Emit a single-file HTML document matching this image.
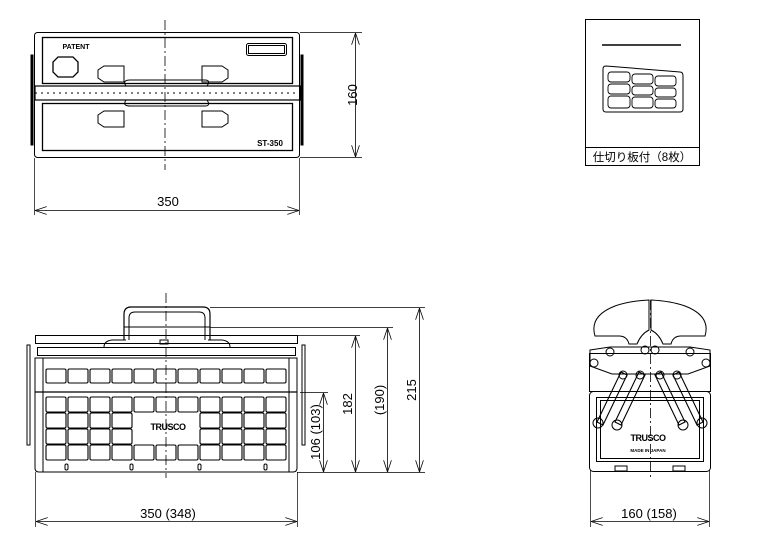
<!DOCTYPE html>
<html><head><meta charset="utf-8"><style>
html,body{margin:0;padding:0;background:#fff;}
svg{display:block}
text{font-family:"Liberation Sans","Noto Sans CJK JP",sans-serif;fill:#000}
</style></head><body>
<svg width="761" height="553" viewBox="0 0 761 553" xmlns="http://www.w3.org/2000/svg">
<defs>
<marker id="a" viewBox="0 0 12 8" refX="12" refY="4" markerWidth="12" markerHeight="8" orient="auto-start-reverse" markerUnits="userSpaceOnUse"><path d="M0,0 L12,4 L0,8" fill="none" stroke="#000" stroke-width="0.8"/></marker>
</defs>
<g fill="none" stroke="#000" stroke-width="1">
<!-- TOP LEFT -->
<rect x="34.5" y="32.5" width="265" height="125" rx="3"/>
<rect x="42.5" y="37.5" width="250" height="46" stroke-width="1.3"/>
<rect x="42.5" y="103.5" width="250" height="47" stroke-width="1.3"/>
<rect x="35" y="86" width="265" height="14" stroke-width="1.2"/>
<line x1="35" y1="93" x2="300" y2="93" stroke-dasharray="2 4"/>
<rect x="246.5" y="43.5" width="40" height="12" rx="2"/>
<rect x="248.5" y="45.5" width="36" height="8"/>
<path d="M58,57 h15 l5,5 v10 l-5,5 h-15 l-5,-5 v-10 z" stroke-width="1.3"/>
<path d="M98,70 l6,-4 h20 v16 h-20 l-6,-4 z"/>
<path d="M228,70 l-6,-4 h-20 v16 h20 l6,-4 z"/>
<path d="M98,115 l6,-4 h20 v16 h-20 l-6,-4 z"/>
<path d="M228,115 l-6,-4 h-20 v16 h20 l6,-4 z"/>
<path d="M126,86 q-4,-6 4,-6 h75 q6,0 2,6" />
<path d="M126,100 q-4,6 4,6 h75 q6,0 2,-6" />
<rect x="31" y="55" width="2" height="90" fill="#000"/>
<rect x="301" y="55" width="2" height="90" fill="#000"/>
<line x1="165" y1="20" x2="165" y2="170" stroke-dasharray="10 3 2 3" stroke-width="0.8"/>
<line x1="300" y1="32.5" x2="362" y2="32.5" stroke-width="0.7"/>
<line x1="300" y1="157.5" x2="362" y2="157.5" stroke-width="0.7"/>
<line x1="355.5" y1="33" x2="355.5" y2="157" stroke-width="0.8" marker-start="url(#a)" marker-end="url(#a)"/>
<line x1="34.5" y1="158" x2="34.5" y2="215" stroke-width="0.7"/>
<line x1="299.5" y1="158" x2="299.5" y2="215" stroke-width="0.7"/>
<line x1="35" y1="210.5" x2="299" y2="210.5" stroke-width="0.8" marker-start="url(#a)" marker-end="url(#a)"/>

<!-- TOP RIGHT -->
<rect x="585.5" y="19.5" width="114" height="146"/>
<line x1="585" y1="147.5" x2="700" y2="147.5"/>
<line x1="602" y1="45" x2="681" y2="45" stroke-width="1.5"/>
<path d="M606,66 l74,6 q3,0 3,4 v33 q0,3 -3,3 h-74 q-3,0 -3,-3 v-40 q0,-3 3,-3 z"/>
<g stroke-width="0.9">
<rect x="608" y="72" width="22" height="10" rx="3"/><rect x="632" y="74" width="21" height="10" rx="3"/><rect x="655" y="76" width="21" height="10" rx="3"/>
<rect x="608" y="84" width="22" height="10" rx="3"/><rect x="632" y="86" width="21" height="9" rx="3"/><rect x="655" y="88" width="21" height="9" rx="3"/>
<rect x="608" y="96" width="22" height="12" rx="3"/><rect x="632" y="97" width="21" height="11" rx="3"/><rect x="655" y="99" width="21" height="9" rx="3"/>
</g>

<!-- BOTTOM LEFT -->
<path d="M124,340 v-26 q0,-7 7,-7 h72 q7,0 7,7 v26" stroke-width="1.2"/>
<path d="M129,340 v-22 q0,-6 6,-6 h64 q6,0 6,6 v22"/>
<line x1="124" y1="327" x2="210" y2="327"/>
<path d="M104,347 q0,-6 8,-7 h14 M208,340 h14 q8,1 8,7"/>
<rect x="160" y="340" width="8" height="4"/>
<rect x="35.5" y="335.5" width="262" height="8"/>
<rect x="37.5" y="347.5" width="258" height="8"/>
<path d="M35,358 h262 v110 q0,4 -4,4 h-254 q-4,0 -4,-4 z"/>
<line x1="35" y1="392" x2="297" y2="392" stroke-width="1.3"/>
<line x1="43" y1="358" x2="43" y2="472"/>
<line x1="289" y1="358" x2="289" y2="472"/>
<rect x="27" y="345" width="3" height="100" />
<rect x="302" y="345" width="3" height="100" />
<g stroke-width="1.1">
<rect x="46" y="369" width="20" height="14" rx="1.5"/><rect x="68" y="369" width="20" height="14" rx="1.5"/><rect x="90" y="369" width="20" height="14" rx="1.5"/><rect x="112" y="369" width="20" height="14" rx="1.5"/><rect x="134" y="369" width="20" height="14" rx="1.5"/><rect x="156" y="369" width="20" height="14" rx="1.5"/><rect x="178" y="369" width="20" height="14" rx="1.5"/><rect x="200" y="369" width="20" height="14" rx="1.5"/><rect x="222" y="369" width="20" height="14" rx="1.5"/><rect x="244" y="369" width="20" height="14" rx="1.5"/><rect x="266" y="369" width="20" height="14" rx="1.5"/>
<rect x="46" y="397" width="20" height="15" rx="1.5"/><rect x="68" y="397" width="20" height="15" rx="1.5"/><rect x="90" y="397" width="20" height="15" rx="1.5"/><rect x="112" y="397" width="20" height="15" rx="1.5"/><rect x="134" y="397" width="20" height="15" rx="1.5"/><rect x="156" y="397" width="20" height="15" rx="1.5"/><rect x="178" y="397" width="20" height="15" rx="1.5"/><rect x="200" y="397" width="20" height="15" rx="1.5"/><rect x="222" y="397" width="20" height="15" rx="1.5"/><rect x="244" y="397" width="20" height="15" rx="1.5"/><rect x="266" y="397" width="20" height="15" rx="1.5"/>
<rect x="46" y="413" width="20" height="15" rx="1.5"/><rect x="68" y="413" width="20" height="15" rx="1.5"/><rect x="90" y="413" width="20" height="15" rx="1.5"/><rect x="112" y="413" width="20" height="15" rx="1.5"/><rect x="200" y="413" width="20" height="15" rx="1.5"/><rect x="222" y="413" width="20" height="15" rx="1.5"/><rect x="244" y="413" width="20" height="15" rx="1.5"/><rect x="266" y="413" width="20" height="15" rx="1.5"/>
<rect x="46" y="429" width="20" height="15" rx="1.5"/><rect x="68" y="429" width="20" height="15" rx="1.5"/><rect x="90" y="429" width="20" height="15" rx="1.5"/><rect x="112" y="429" width="20" height="15" rx="1.5"/><rect x="200" y="429" width="20" height="15" rx="1.5"/><rect x="222" y="429" width="20" height="15" rx="1.5"/><rect x="244" y="429" width="20" height="15" rx="1.5"/><rect x="266" y="429" width="20" height="15" rx="1.5"/>
<rect x="46" y="445" width="20" height="15" rx="1.5"/><rect x="68" y="445" width="20" height="15" rx="1.5"/><rect x="90" y="445" width="20" height="15" rx="1.5"/><rect x="112" y="445" width="20" height="15" rx="1.5"/><rect x="134" y="445" width="20" height="15" rx="1.5"/><rect x="156" y="445" width="20" height="15" rx="1.5"/><rect x="178" y="445" width="20" height="15" rx="1.5"/><rect x="200" y="445" width="20" height="15" rx="1.5"/><rect x="222" y="445" width="20" height="15" rx="1.5"/><rect x="244" y="445" width="20" height="15" rx="1.5"/><rect x="266" y="445" width="20" height="15" rx="1.5"/>
</g>
<rect x="65" y="464" width="3" height="6" rx="1.5"/><rect x="130" y="464" width="3" height="6" rx="1.5"/><rect x="198" y="464" width="3" height="6" rx="1.5"/><rect x="264" y="464" width="3" height="6" rx="1.5"/>
<line x1="166" y1="293" x2="166" y2="478" stroke-dasharray="10 3 2 3" stroke-width="0.8"/>
<g stroke-width="0.7">
<line x1="210" y1="307.5" x2="425" y2="307.5"/>
<line x1="210" y1="327.5" x2="393" y2="327.5"/>
<line x1="297" y1="335.5" x2="360" y2="335.5"/>
<line x1="300" y1="392.5" x2="328" y2="392.5"/>
<line x1="297" y1="472.5" x2="425" y2="472.5"/>
<line x1="35.5" y1="472" x2="35.5" y2="527"/>
<line x1="297.5" y1="472" x2="297.5" y2="527"/>
</g>
<g stroke-width="0.8">
<line x1="419.5" y1="308" x2="419.5" y2="472" marker-start="url(#a)" marker-end="url(#a)"/>
<line x1="387.5" y1="328" x2="387.5" y2="472" marker-start="url(#a)" marker-end="url(#a)"/>
<line x1="355.5" y1="336" x2="355.5" y2="472" marker-start="url(#a)" marker-end="url(#a)"/>
<line x1="323.5" y1="393" x2="323.5" y2="472" marker-start="url(#a)" marker-end="url(#a)"/>
<line x1="36" y1="521.5" x2="297" y2="521.5" marker-start="url(#a)" marker-end="url(#a)"/>
</g>

<!-- BOTTOM RIGHT -->
<path d="M595,336 q-6,-20 20,-30 q14,-5 34,-6 v30 q-8,4 -12,14 h-8 q-2,-8 -10,-8 z"/>
<path d="M705,336 q6,-20 -20,-30 q-14,-5 -34,-6 v30 q8,4 12,14 h8 q2,-8 10,-8 z"/>
<path d="M590,350 l20,-3 h80 l20,3 v16 l-22,8 h-76 l-22,-8 z"/>
<rect x="589.5" y="353.5" width="121" height="38"/>
<rect x="589.5" y="391.5" width="121" height="80" rx="4"/>
<rect x="596.5" y="397.5" width="107" height="64"/>
<rect x="600.5" y="400.5" width="99" height="58"/>
<g stroke-width="1.1">
<path d="M621,372 l-24,50 l6,3 l24,-50 z"/><path d="M639,372 l-24,50 l6,3 l24,-50 z"/>
<path d="M679,372 l24,50 l-6,3 l-24,-50 z"/><path d="M661,372 l24,50 l-6,3 l-24,-50 z"/>
</g>
<g stroke-width="1">
<circle cx="598" cy="423" r="5"/><circle cx="617" cy="425" r="5"/><circle cx="683" cy="425" r="5"/><circle cx="702" cy="423" r="5"/>
<circle cx="623" cy="375" r="4"/><circle cx="640" cy="375" r="4"/><circle cx="660" cy="375" r="4"/><circle cx="677" cy="375" r="4"/>
<circle cx="610" cy="352" r="4"/><circle cx="645" cy="350" r="4"/><circle cx="655" cy="350" r="4"/><circle cx="690" cy="352" r="4"/>
<circle cx="594" cy="363" r="4"/><circle cx="706" cy="363" r="4"/>
</g>
<line x1="650.5" y1="300" x2="650.5" y2="480" stroke-dasharray="10 3 2 3" stroke-width="0.8"/>
<rect x="615" y="466" width="12" height="5"/><rect x="673" y="466" width="12" height="5"/>
<line x1="590.5" y1="470" x2="590.5" y2="527" stroke-width="0.7"/>
<line x1="709.5" y1="470" x2="709.5" y2="527" stroke-width="0.7"/>
<line x1="591" y1="521.5" x2="709" y2="521.5" stroke-width="0.8" marker-start="url(#a)" marker-end="url(#a)"/>
</g>

<text x="76" y="49" font-size="7" font-weight="bold" text-anchor="middle">PATENT</text>
<text x="270" y="146" font-size="8" font-weight="bold" text-anchor="middle">ST-350</text>
<text x="168" y="206" font-size="13" text-anchor="middle">350</text>
<text transform="translate(357,95) rotate(-90)" font-size="13" text-anchor="middle">160</text>
<text x="642" y="161" font-size="11.5" text-anchor="middle">仕切り板付（8枚）</text>
<text x="168" y="430" font-size="9" font-weight="bold" text-anchor="middle" letter-spacing="-0.5">TRUSCO</text>
<text x="648" y="441" font-size="9" font-weight="bold" text-anchor="middle" letter-spacing="-0.5">TRUSCO</text>
<text x="648" y="452" font-size="4.5" font-weight="bold" text-anchor="middle">MADE IN JAPAN</text>
<text x="168" y="518" font-size="13" text-anchor="middle">350 (348)</text>
<text x="649" y="518" font-size="13" text-anchor="middle">160 (158)</text>
<text transform="translate(320,432) rotate(-90)" font-size="13" text-anchor="middle">106 (103)</text>
<text transform="translate(352,404) rotate(-90)" font-size="13" text-anchor="middle">182</text>
<text transform="translate(384,400) rotate(-90)" font-size="13" text-anchor="middle">(190)</text>
<text transform="translate(416,390) rotate(-90)" font-size="13" text-anchor="middle">215</text>
</svg>
</body></html>
